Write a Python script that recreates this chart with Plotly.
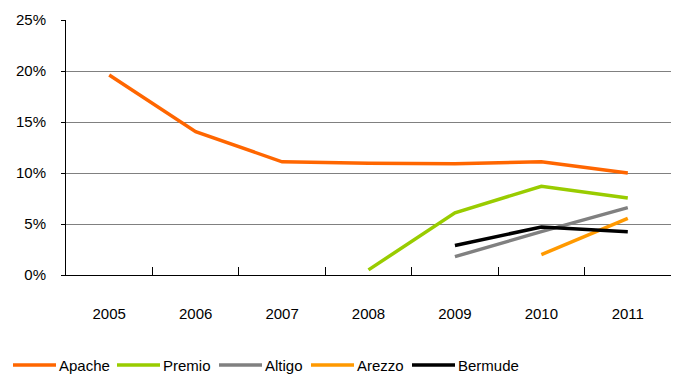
import plotly.graph_objects as go

years = ["2005", "2006", "2007", "2008", "2009", "2010", "2011"]
apache = [19.6, 14.05, 11.1, 10.95, 10.9, 11.1, 10.0]
premio = [None, None, None, 0.5, 6.1, 8.7, 7.55]
altigo = [None, None, None, None, 1.8, 4.25, 6.6]
arezzo = [None, None, None, None, None, 2.0, 5.55]
bermude = [None, None, None, None, 2.9, 4.7, 4.25]

names = ["Apache", "Premio", "Altigo", "Arezzo", "Bermude"]
values = [apache, premio, altigo, arezzo, bermude]
colors = ["#FF6600", "#99CC00", "#808080", "#FF9900", "#000000"]

FONT = "Liberation Sans, Arial, sans-serif"
FS = 15

# plot area in pixels
L, R, T, B = 66, 671, 20, 275
W, H = R - L, B - T

fig = go.Figure()
for name, vals, color in zip(names, values, colors):
    fig.add_trace(go.Scatter(
        x=years, y=vals, name=name, mode="lines",
        line=dict(color=color, width=3.5),
        connectgaps=False, showlegend=False,
    ))

# manual legend (swatch + label) placed below the axis
leg_starts = [13, 117, 219, 311, 412]
leg_y = 365
shapes, annotations = [], []
for name, color, x0 in zip(names, colors, leg_starts):
    shapes.append(dict(
        type="line", xref="paper", yref="paper",
        x0=(x0 - L) / W, x1=(x0 + 43 - L) / W,
        y0=(B - leg_y) / H, y1=(B - leg_y) / H,
        line=dict(color=color, width=3.5),
    ))
    annotations.append(dict(
        xref="paper", yref="paper", x=(x0 + 44 - L) / W, y=(B - leg_y) / H,
        xanchor="left", yanchor="middle", text=name, showarrow=False,
        font=dict(family=FONT, size=FS, color="#000000"),
    ))

fig.update_layout(
    width=681, height=380,
    margin=dict(l=L, r=681 - R, t=T, b=380 - B, autoexpand=False),
    paper_bgcolor="white", plot_bgcolor="white",
    font=dict(family=FONT, size=FS, color="#000000"),
    showlegend=False,
    shapes=shapes, annotations=annotations,
)
fig.update_xaxes(
    type="category", range=[-0.5, 6.5], showgrid=False, showline=True,
    linecolor="#000000", linewidth=1,
    ticks="inside", tickson="boundaries", ticklen=8, tickcolor="#000000",
    ticklabelstandoff=25,
)
fig.update_yaxes(
    range=[0, 25], dtick=5, ticksuffix="%", showgrid=True, gridcolor="#808080", gridwidth=1,
    showline=True, linecolor="#000000", linewidth=1, ticks="outside", ticklen=4,
    tickcolor="#000000", ticklabelstandoff=12, zeroline=False,
)

fig.write_html("out.html")
